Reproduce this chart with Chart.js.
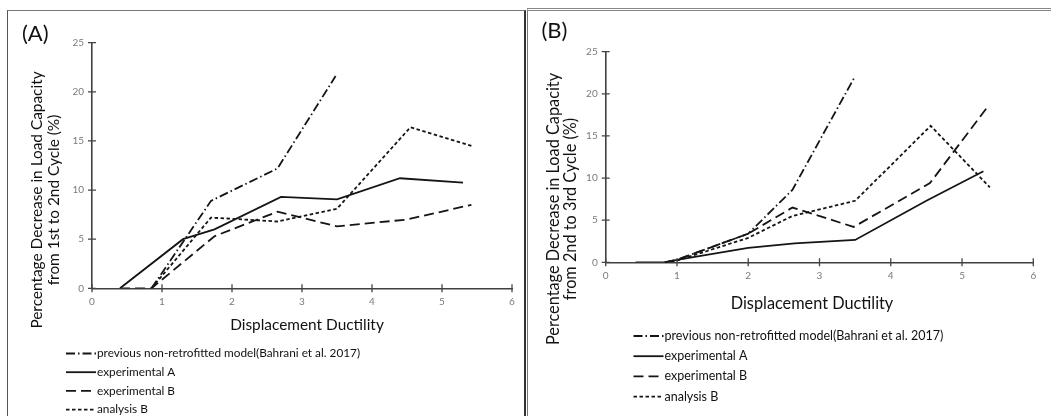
<!DOCTYPE html>
<html>
<head>
<meta charset="utf-8">
<script src="https://cdn.jsdelivr.net/npm/chart.js@4.4.1/dist/chart.umd.min.js"></script>
<style>
  body { margin: 0; background: #fff; width: 1051px; height: 416px; overflow: hidden; position: relative; }
  canvas { position: absolute; top: 0; }
  .frame { position: absolute; }
</style>
</head>
<body>
<div class="frame" style="left:7px; top:10px; width:516px; height:430px; border-left:1px solid #555; border-top:1px solid #777; border-right:2px solid #333;"></div>
<div class="frame" style="left:527px; top:8px; width:540px; height:430px; border-left:1px solid #777; border-top:3px double #888;"></div>
<canvas id="chartA" width="524" height="416" style="left:0px"></canvas>
<canvas id="chartB" width="527" height="416" style="left:524px"></canvas>
<script>
const FONT = "Lato, 'Open Sans', sans-serif";

const seriesLabels = [
  'previous non-retrofitted model(Bahrani et al. 2017)',
  'experimental A',
  'experimental B',
  'analysis B'
];
const xTitle = 'Displacement Ductility';
const yTitleA = ['Percentage Decrease in Load Capacity', 'from 1st to 2nd Cycle (%)'];
const yTitleB = ['Percentage Decrease in Load Capacity', 'from 2nd to 3rd Cycle (%)'];
const xTicks = [0, 1, 2, 3, 4, 5, 6];
const yTicks = [0, 5, 10, 15, 20, 25];

// (A) 1st -> 2nd cycle
const prevA_x = [0.85, 1.7, 2.65, 3.48];
const prevA_y = [0, 8.9, 12.2, 21.6];
const expA_A_x = [0.4, 1.3, 1.75, 2.7, 3.5, 4.4, 5.3];
const expA_A_y = [0, 5.0, 6.0, 9.3, 9.05, 11.2, 10.75];
const expB_A_x = [0.4, 0.85, 1.75, 2.65, 3.5, 4.5, 5.42];
const expB_A_y = [0, 0, 5.3, 7.8, 6.3, 7.0, 8.5];
const anaB_A_x = [0.85, 1.7, 2.65, 3.5, 4.55, 5.42];
const anaB_A_y = [0, 7.2, 6.8, 8.1, 16.4, 14.5];

// (B) 2nd -> 3rd cycle
const prevB_x = [0.83, 1.0, 2.0, 2.62, 3.5];
const prevB_y = [0, 0.3, 3.4, 8.6, 22.1];
const expA_B_x = [0.42, 0.83, 1.0, 2.0, 2.65, 3.5, 4.5, 5.3];
const expA_B_y = [0, 0, 0.3, 1.7, 2.25, 2.65, 7.3, 10.8];
const expB_B_x = [0.83, 1.0, 2.0, 2.62, 3.48, 4.55, 5.38];
const expB_B_y = [0, 0.3, 3.4, 6.5, 4.2, 9.4, 18.7];
const anaB_B_x = [0.83, 1.0, 2.0, 2.62, 3.5, 4.56, 5.39];
const anaB_B_y = [0, 0.2, 2.9, 5.5, 7.3, 16.2, 8.9];

const dashes = [[9, 3, 1.5, 3], [], [10, 5], [3.5, 2.5]];

function toPoints(xs, ys) {
  return xs.map((x, i) => ({ x: x, y: ys[i] }));
}

// tick marks that cross the axis line, like the Excel original
const crossTicks = {
  id: 'crossTicks',
  afterDatasetsDraw(chart) {
    const { ctx, chartArea, scales: { x, y } } = chart;
    ctx.save();
    ctx.strokeStyle = '#444';
    ctx.lineWidth = 1.3;
    ctx.beginPath();
    x.ticks.forEach(t => {
      const px = x.getPixelForValue(t.value);
      ctx.moveTo(px, chartArea.bottom - 4);
      ctx.lineTo(px, chartArea.bottom + 4);
    });
    y.ticks.forEach(t => {
      const py = y.getPixelForValue(t.value);
      ctx.moveTo(chartArea.left - 4, py);
      ctx.lineTo(chartArea.left + 4, py);
    });
    ctx.stroke();
    ctx.restore();
  }
};

// panel tag, axis titles and the stacked legend under the plot
const panelText = {
  id: 'panelText',
  afterDraw(chart, args, o) {
    const ctx = chart.ctx;
    ctx.save();
    ctx.fillStyle = '#111';
    ctx.textBaseline = 'middle';

    ctx.font = o.tagSize + 'px ' + FONT;
    ctx.textAlign = 'left';
    ctx.fillText(o.tag, o.tagX, o.tagY);

    ctx.font = o.titleSize + 'px ' + FONT;
    ctx.textAlign = 'center';
    ctx.fillText(xTitle, o.xTitleX, o.xTitleY);

    ctx.save();
    ctx.translate(o.yTitleX, o.yTitleY);
    ctx.rotate(-Math.PI / 2);
    const n = o.yLines.length;
    o.yLines.forEach((line, i) => ctx.fillText(line, 0, (i - (n - 1) / 2) * o.yLineGap));
    ctx.restore();

    ctx.font = o.legendSize + 'px ' + FONT;
    ctx.textAlign = 'left';
    chart.data.datasets.forEach((ds, i) => {
      const yy = o.legendY + i * o.legendGap;
      ctx.beginPath();
      ctx.setLineDash(ds.borderDash);
      ctx.lineWidth = ds.borderWidth;
      ctx.strokeStyle = ds.borderColor;
      ctx.moveTo(o.legendX, yy);
      ctx.lineTo(o.legendX + o.legendLen, yy);
      ctx.stroke();
      ctx.setLineDash([]);
      ctx.fillText(ds.label, o.legendX + o.legendLen + 1, yy);
    });
    ctx.restore();
  }
};

function axis(ticks, max, pad, isX) {
  return {
    type: 'linear',
    min: 0,
    max: max,
    afterBuildTicks: s => { s.ticks = ticks.map(v => ({ value: v })); },
    ticks: { color: '#7a7a7a', font: { family: FONT, size: 10 }, padding: pad },
    grid: { display: false, drawTicks: false },
    border: { color: '#404040', width: 1.6 },
    afterFit: s => { if (isX) s.height = 30; else s.width = 30; }
  };
}

function makeChart(id, series, padding, text) {
  return new Chart(document.getElementById(id), {
    type: 'scatter',
    data: {
      datasets: series.map((s, i) => ({
        label: seriesLabels[i],
        data: toPoints(s[0], s[1]),
        showLine: true,
        borderColor: '#151515',
        borderWidth: 1.8,
        borderDash: dashes[i],
        pointRadius: 0,
        fill: false,
        tension: 0
      }))
    },
    options: {
      responsive: false,
      animation: false,
      events: [],
      layout: { padding: padding },
      plugins: {
        legend: { display: false },
        tooltip: { enabled: false },
        panelText: text
      },
      scales: {
        x: axis(xTicks, 6, 7, true),
        y: axis(yTicks, 25, 8, false)
      }
    },
    plugins: [crossTicks, panelText]
  });
}

makeChart('chartA',
  [[prevA_x, prevA_y], [expA_A_x, expA_A_y], [expB_A_x, expB_A_y], [anaB_A_x, anaB_A_y]],
  { left: 62, right: 12, top: 42.7, bottom: 97.7 },
  {
    tag: '(A)', tagSize: 22, tagX: 22, tagY: 34,
    titleSize: 15.4, xTitleX: 307, xTitleY: 325,
    yLines: yTitleA, yTitleX: 45.6, yTitleY: 200, yLineGap: 16.8,
    legendSize: 11.8, legendX: 66, legendLen: 30, legendY: 353.5, legendGap: 18.7
  });

makeChart('chartB',
  [[prevB_x, prevB_y], [expA_B_x, expA_B_y], [expB_B_x, expB_B_y], [anaB_B_x, anaB_B_y]],
  { left: 51.7, right: 17.7, top: 51.7, bottom: 123.7 },
  {
    tag: '(B)', tagSize: 22, tagX: 17.5, tagY: 31,
    titleSize: 16.3, xTitleX: 288, xTitleY: 303.5,
    yLines: yTitleB, yTitleX: 38.5, yTitleY: 209, yLineGap: 17,
    legendSize: 12.5, legendX: 109.5, legendLen: 30, legendY: 336, legendGap: 20.2
  });
</script>
</body>
</html>
